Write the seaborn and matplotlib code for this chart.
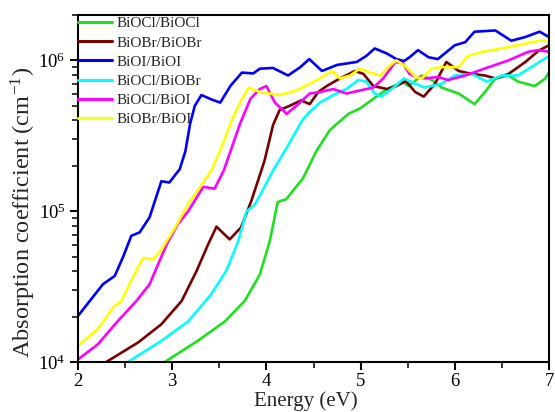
import numpy as np
import pandas as pd
import matplotlib
matplotlib.use("Agg")
import matplotlib.pyplot as plt
import seaborn as sns
from matplotlib.ticker import MultipleLocator, LogLocator

labels = ["BiOCl/BiOCl", "BiOBr/BiOBr", "BiOI/BiOI", "BiOCl/BiOBr", "BiOCl/BiOI", "BiOBr/BiOI"]
colors = ["#1ee01e", "#7a0000", "#0000ff", "#00ffff", "#ff00ff", "#ffff00"]

e_clcl = [2.92, 3.27, 3.56, 3.77, 3.93, 4.035, 4.12, 4.21, 4.39, 4.53, 4.67, 4.75, 4.87, 4.99, 5.135,
          5.26, 5.35, 5.45, 5.51, 5.65, 5.755, 5.86, 6.04, 6.21, 6.32, 6.43, 6.57, 6.67, 6.85, 6.96, 7.00]
a_clcl = [1.0e4, 1.38e4, 1.86e4, 2.54e4, 3.8e4, 6.3e4, 1.15e5, 1.2e5, 1.66e5, 2.5e5, 3.43e5, 3.8e5,
          4.42e5, 4.79e5, 5.56e5, 6.31e5, 6.76e5, 7.16e5, 6.76e5, 7.94e5, 7.41e5, 6.61e5, 6.03e5,
          5.13e5, 6.17e5, 7.59e5, 7.94e5, 7.24e5, 6.76e5, 7.59e5, 8.32e5]

e_brbr = [2.30, 2.64, 2.885, 3.10, 3.26, 3.38, 3.47, 3.61, 3.73, 3.84, 3.98, 4.04, 4.07, 4.14, 4.25,
          4.37, 4.46, 4.55, 4.64, 4.78, 4.94, 5.03, 5.135, 5.28, 5.38, 5.48, 5.58, 5.67, 5.79, 5.91,
          6.04, 6.18, 6.32, 6.43, 6.57, 6.75, 6.89, 7.00]
a_brbr = [1.0e4, 1.35e4, 1.78e4, 2.54e4, 4.03e4, 6.0e4, 7.9e4, 6.5e4, 7.8e4, 1.17e5, 2.16e5, 3.1e5,
          3.72e5, 4.68e5, 5.01e5, 5.43e5, 5.13e5, 6.17e5, 6.76e5, 7.59e5, 8.51e5, 8.13e5, 6.76e5,
          6.46e5, 6.76e5, 7.3e5, 6.17e5, 5.75e5, 7.0e5, 9.77e5, 8.51e5, 8.13e5, 7.94e5, 7.59e5,
          8.13e5, 9.77e5, 1.16e6, 1.26e6]

e_ii = [2.00, 2.265, 2.39, 2.48, 2.566, 2.655, 2.76, 2.885, 2.97, 3.08, 3.14, 3.19, 3.24, 3.31, 3.42,
        3.51, 3.62, 3.74, 3.86, 3.93, 4.07, 4.23, 4.36, 4.455, 4.59, 4.75, 4.96, 5.06, 5.15, 5.28, 5.38,
        5.46, 5.52, 5.61, 5.72, 5.82, 6.00, 6.11, 6.21, 6.43, 6.60, 6.75, 6.90, 7.00]
a_ii = [2.02e4, 3.28e4, 3.72e4, 5.0e4, 6.87e4, 7.24e4, 9.12e4, 1.58e5, 1.55e5, 1.9e5, 2.5e5, 3.8e5,
        5.0e5, 5.89e5, 5.5e5, 5.25e5, 6.8e5, 8.3e5, 8.2e5, 8.81e5, 8.91e5, 7.94e5, 9.02e5, 1.02e6,
        8.51e5, 9.33e5, 9.77e5, 1.07e6, 1.2e6, 1.11e6, 1.02e6, 9.9e5, 1.05e6, 1.17e6, 1.05e6, 1.02e6,
        1.26e6, 1.32e6, 1.55e6, 1.58e6, 1.35e6, 1.43e6, 1.55e6, 1.43e6]

e_clbr = [2.53, 2.885, 3.17, 3.415, 3.575, 3.70, 3.79, 3.875, 3.98, 4.07, 4.215, 4.38, 4.46, 4.57, 4.71,
          4.85, 4.975, 5.06, 5.15, 5.22, 5.35, 5.46, 5.58, 5.68, 5.86, 6.00, 6.18, 6.34, 6.50, 6.67,
          6.85, 7.00]
a_clbr = [1.0e4, 1.38e4, 1.86e4, 2.82e4, 4.03e4, 6.3e4, 1.0e5, 1.1e5, 1.45e5, 1.86e5, 2.63e5, 4.0e5,
          4.57e5, 5.25e5, 5.89e5, 6.46e5, 7.41e5, 7.24e5, 6.03e5, 5.75e5, 6.61e5, 7.59e5, 7.0e5,
          6.61e5, 7.0e5, 7.94e5, 8.13e5, 7.24e5, 7.94e5, 7.94e5, 9.33e5, 1.07e6]

e_cli = [2.00, 2.21, 2.42, 2.62, 2.76, 2.94, 3.06, 3.17, 3.33, 3.45, 3.55, 3.72, 3.83, 3.93, 4.00, 4.09,
         4.215, 4.32, 4.46, 4.57, 4.71, 4.85, 4.99, 5.135, 5.24, 5.37, 5.45, 5.52, 5.58, 5.68, 5.82,
         5.93, 6.11, 6.36, 6.57, 6.78, 6.89, 7.00]
a_cli = [1.04e4, 1.31e4, 1.86e4, 2.54e4, 3.28e4, 6.0e4, 8.2e4, 1.0e5, 1.45e5, 1.41e5, 1.88e5, 3.8e5,
         5.56e5, 6.46e5, 6.76e5, 5.25e5, 4.42e5, 5.01e5, 6.03e5, 6.17e5, 6.46e5, 6.03e5, 6.31e5,
         6.61e5, 7.59e5, 9.77e5, 9.55e5, 8.13e5, 7.76e5, 7.59e5, 7.76e5, 7.41e5, 7.94e5, 9.02e5,
         1.0e6, 1.14e6, 1.17e6, 1.14e6]

e_bri = [2.00, 2.21, 2.37, 2.46, 2.566, 2.69, 2.80, 2.87, 3.03, 3.17, 3.33, 3.415, 3.53, 3.63, 3.72, 3.81,
         3.93, 4.14, 4.32, 4.57, 4.69, 4.78, 4.89, 4.99, 5.10, 5.21, 5.29, 5.38, 5.48, 5.58, 5.65, 5.755,
         5.86, 6.04, 6.14, 6.29, 6.50, 6.67, 6.89, 7.00]
a_bri = [1.28e4, 1.65e4, 2.29e4, 2.54e4, 3.47e4, 4.9e4, 4.79e4, 5.37e4, 7.76e4, 1.12e5, 1.55e5, 1.86e5,
         2.7e5, 3.98e5, 5.25e5, 6.6e5, 6.17e5, 5.89e5, 6.31e5, 7.59e5, 8.51e5, 7.59e5, 7.94e5, 8.81e5,
         8.32e5, 7.94e5, 9.02e5, 1.0e6, 9.1e5, 7.76e5, 7.59e5, 8.81e5, 9.02e5, 9.02e5, 1.07e6, 1.14e6,
         1.2e6, 1.26e6, 1.35e6, 1.35e6]

energies = [e_clcl, e_brbr, e_ii, e_clbr, e_cli, e_bri]
absorb = [a_clcl, a_brbr, a_ii, a_clbr, a_cli, a_bri]

frames = []
for lab, e, a in zip(labels, energies, absorb):
    frames.append(pd.DataFrame({"Energy": e, "Abs": a, "Material": lab}))
df = pd.concat(frames, ignore_index=True)

sns.set_style("ticks")
plt.rcParams["font.family"] = ["Liberation Serif", "DejaVu Serif"]
plt.rcParams["mathtext.fontset"] = "stix"

fig = plt.figure(figsize=(5.55, 4.12), dpi=100)
ax = fig.add_axes([78 / 555, 1 - 362 / 412, 471 / 555, 347 / 412])

sns.lineplot(data=df, x="Energy", y="Abs", hue="Material", hue_order=labels,
             palette=dict(zip(labels, colors)), estimator=None, sort=True,
             linewidth=1.9, ax=ax)
for ln in ax.get_lines():
    ln.set_solid_joinstyle("round")

ax.set_yscale("log")
ax.set_xlim(2, 7)
ax.set_ylim(1e4, 2.0e6)
ax.xaxis.set_major_locator(MultipleLocator(1))
ax.xaxis.set_minor_locator(MultipleLocator(0.5))
ax.yaxis.set_major_locator(LogLocator(base=10, numticks=10))
ax.yaxis.set_minor_locator(LogLocator(base=10, subs=np.arange(2, 10), numticks=20))

for s in ax.spines.values():
    s.set_linewidth(1.5)
    s.set_color("black")
ax.tick_params(axis="both", which="major", direction="out", length=6, width=1.5,
               labelsize=13.5, colors="black", pad=3)
ax.tick_params(axis="x", which="major", pad=2)
ax.tick_params(axis="both", which="minor", direction="out", length=4, width=1.3)

ax.set_xlabel("Energy (eV)", fontsize=15)
ax.set_ylabel("Absorption coefficient (cm$^{\\mathregular{-1}}$)", fontsize=17.5)
ax.xaxis.set_label_coords(0.484, -0.085)
ax.yaxis.set_label_coords(-0.085, 0.43)

handles, labs = ax.get_legend_handles_labels()
leg = ax.legend(handles, labs, loc="upper left", bbox_to_anchor=(0, 0.995), frameon=False,
                fontsize=11, borderpad=0, borderaxespad=0, handlelength=2.2,
                handletextpad=0.3, labelspacing=0.36)
for h in leg.get_lines():
    h.set_linewidth(2.2)

fig.savefig("out.png", dpi=100)
